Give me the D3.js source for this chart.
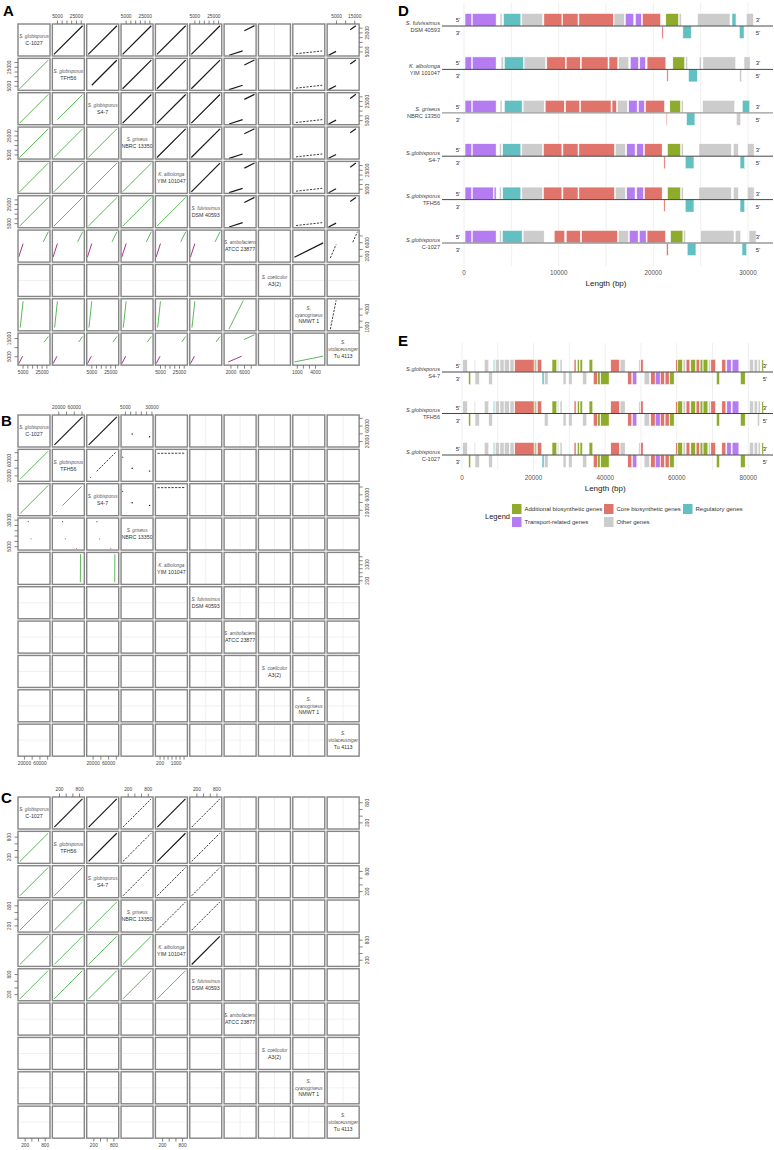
<!DOCTYPE html>
<html>
<head>
<meta charset="utf-8">
<script src="https://cdn.jsdelivr.net/npm/d3@7"></script>
<style>
body { margin: 0; background: #fff; }
svg { display: block; font-family: "Liberation Sans", Arial, sans-serif; }
</style>
</head>
<body>
<div id="fig"></div>
<script>
// species shown on the diagonal of the three dot-plot matrices
var speciesItalic = [["S. globisporus"], ["S. globisporus"], ["S. globisporus"], ["S. griseus"], ["K. albolonga"],
    ["S. fulvissimus"], ["S. ambofaciens"], ["S. coelicolor"], ["S.", "cyanogriseus"], ["S.", "violaceusniger"]];
var speciesStrain = ["C-1027", "TFH56", "S4-7", "NBRC 13350", "YIM 101047", "DSM 40593", "ATCC 23877", "A3(2)", "NMWT 1", "Tu 4113"];

// ---- panel A : cluster coordinates (bp), null = no cluster
var coreA = [1500, 32500];
var domA = [coreA, coreA, coreA, coreA, coreA, coreA, [500, 9200], null, [550, 5400], [800, 17000]];
var t30 = [5000, 10000, 15000, 20000, 25000, 30000];
var ticksA = [t30, t30, t30, t30, t30, t30, [2000, 4000, 6000, 8000], null, [1000, 2000, 3000, 4000], [5000, 10000, 15000]];
var labelsA = [[5000, 25000], [5000, 25000], [5000, 25000], [5000, 25000], [5000, 25000], [5000, 25000], [2000, 6000], null, [1000, 4000], [5000, 15000]];
// matches "row,col" (row > col): [colStart, rowStart, colEnd, rowEnd, orientation]
var diagA = [[1800, 1800, 32000, 32000, "f"]];
var ambA = [[900, 1600, 5500, 5600, "r"], [26800, 6100, 32100, 9100, "f"]];
var cyaA = [[2500, 870, 5500, 5190, "f"]];
var vioA = [[900, 900, 5000, 5000, "r"], [27800, 12800, 32100, 15900, "f"]];
var segsA = {
    "1,0": diagA, "2,0": diagA, "2,1": [[5500, 5500, 31800, 31800, "f"]],
    "3,0": diagA, "3,1": diagA, "3,2": diagA,
    "4,0": diagA, "4,1": diagA, "4,2": diagA, "4,3": diagA,
    "5,0": diagA, "5,1": diagA, "5,2": diagA, "5,3": diagA, "5,4": diagA,
    "6,0": ambA, "6,1": ambA, "6,2": ambA, "6,3": ambA, "6,4": ambA, "6,5": ambA,
    "8,0": cyaA, "8,1": cyaA, "8,2": cyaA, "8,3": cyaA, "8,4": cyaA, "8,5": cyaA,
    "8,6": [[1540, 600, 5800, 5340, "f"]],
    "9,0": vioA, "9,1": vioA, "9,2": vioA, "9,3": vioA, "9,4": vioA, "9,5": vioA,
    "9,6": [[1350, 1860, 5320, 5030, "r"], [6000, 14200, 9100, 16800, "f"]],
    "9,8": [[600, 1860, 5350, 5030, "f"]]
};
var gappedA = ["8,0", "8,1", "8,2", "8,3", "8,4", "8,5", "9,6", "9,8"];

// ---- panel B
var coreB = [8000, 84000];
var t80 = [20000, 40000, 60000, 80000];
var domB = [coreB, coreB, coreB, [2600, 30300], [56, 1528], null, null, null, null, null];
var ticksB = [t80, t80, t80, [5000, 10000, 15000, 20000, 25000, 30000], [200, 400, 600, 800, 1000, 1200, 1400], null, null, null, null, null];
var labelsB = [[20000, 60000], [20000, 60000], [20000, 60000], [5000, 30000], [200, 1000], null, null, null, null, null];
var diagB = [[10000, 10000, 82500, 82500, "f"]];
var grisB = [[38000, 11300, 38300, 12500, "f"], [31000, 27600, 31400, 28800, "r"]];
var grisB2 = [[38000, 11300, 38300, 12500, "f"], [31000, 27600, 31400, 28800, "r"], [66500, 2700, 67800, 3300, "r"]];
var segsB = {
    "1,0": diagB, "2,0": diagB,
    "2,1": [[30500, 30500, 80000, 80000, "f"], [14000, 14000, 15700, 15700, "f"]],
    "3,0": grisB, "3,1": grisB2, "3,2": grisB2,
    "4,1": [[77000, 100, 77400, 1500, "f"]], "4,2": [[77000, 100, 77400, 1500, "f"]]
};
var gappedB = ["2,1", "4,1", "4,2"];

// ---- panel C
var coreC = [40, 920];
var t800 = [200, 400, 600, 800];
var domC = [coreC, coreC, coreC, coreC, coreC, coreC, null, null, null, null];
var ticksC = [t800, t800, t800, t800, t800, t800, null, null, null, null];
var labelsC = [[200, 800], [200, 800], [200, 800], [200, 800], [200, 800], [200, 800], null, null, null, null];
var diagC = [[60, 60, 900, 900, "f"]];
var segsC = {};
for (var r = 1; r < 6; r++) for (var c = 0; c < r; c++) segsC[r + "," + c] = diagC;
var gappedC = ["3,0", "5,0", "3,1", "5,1", "3,2", "4,2", "5,2", "4,3", "5,3"];

// ---- panel D : genes [start, end, strand, type]
var namesD = [["S. fulvissimus", "DSM 40593"], ["K. albolonga", "YIM 101047"], ["S. griseus", "NBRC 13350"],
    ["S.globisporus", "S4-7"], ["S.globisporus", "TFH56"], ["S.globisporus", "C-1027"]];
var genesFulvissimus = [[110, 810, 1, "t"], [880, 3390, 1, "t"], [3810, 4020, 1, "o"], [4170, 6000, 1, "r"], [6110, 8300, 1, "o"],
    [8440, 10340, 1, "c"], [10410, 12040, 1, "c"], [12140, 15780, 1, "c"], [15850, 16940, 1, "o"], [17050, 17930, 1, "t"],
    [18110, 18740, 1, "t"], [18850, 20760, 1, "c"], [21320, 22660, 1, "a"], [22730, 22950, 1, "o"], [24670, 28100, 1, "o"],
    [28310, 28730, 1, "r"], [29830, 30570, 1, "o"],
    [20900, 21040, -1, "c"], [23120, 24000, -1, "r"], [29090, 29580, -1, "r"]];
var genesAlbolonga = [[110, 810, 1, "t"], [880, 3390, 1, "t"], [3920, 4170, 1, "o"], [4270, 6280, 1, "r"], [6350, 8610, 1, "o"],
    [8750, 10700, 1, "c"], [10800, 12280, 1, "c"], [12390, 15210, 1, "c"], [15320, 16240, 1, "c"], [16340, 17400, 1, "o"],
    [17580, 18430, 1, "t"], [18570, 19170, 1, "t"], [19340, 21320, 1, "c"], [22060, 23300, 1, "a"], [23400, 23620, 1, "o"],
    [24850, 25060, 1, "o"], [25240, 28700, 1, "o"], [29580, 30220, 1, "o"],
    [21430, 21570, -1, "c"], [23720, 24640, -1, "r"], [29120, 29330, -1, "o"]];
var genesGriseus = [[110, 810, 1, "t"], [880, 3390, 1, "t"], [3810, 4020, 1, "o"], [4270, 6140, 1, "r"], [6250, 8470, 1, "o"],
    [8580, 10590, 1, "c"], [10730, 12210, 1, "c"], [12320, 15530, 1, "c"], [15640, 16100, 1, "c"], [16200, 17260, 1, "o"],
    [17400, 18290, 1, "t"], [18430, 19060, 1, "t"], [19170, 21180, 1, "c"], [21740, 22870, 1, "a"], [22950, 23160, 1, "o"],
    [25200, 28590, 1, "o"], [29400, 30180, 1, "r"],
    [21360, 21460, -1, "c"], [23510, 24390, -1, "r"], [28770, 29230, -1, "o"]];
var genesS47 = [[110, 810, 1, "t"], [880, 3390, 1, "t"], [3740, 3950, 1, "o"], [4090, 6000, 1, "r"], [6110, 8300, 1, "o"],
    [8400, 10340, 1, "c"], [10450, 12040, 1, "c"], [12140, 15890, 1, "c"], [15990, 17050, 1, "o"], [17190, 18070, 1, "t"],
    [18250, 18960, 1, "t"], [19060, 20930, 1, "c"], [21500, 22870, 1, "a"], [22950, 23160, 1, "o"], [24820, 28240, 1, "o"],
    [28450, 28980, 1, "o"], [29930, 30640, 1, "o"],
    [21110, 21250, -1, "c"], [23370, 24290, -1, "r"], [29160, 29650, -1, "r"]];
var genesTFH56 = [[110, 810, 1, "t"], [880, 3110, 1, "t"], [3180, 3390, 1, "t"], [3740, 3950, 1, "o"], [4090, 6000, 1, "r"],
    [6110, 8300, 1, "o"], [8400, 10340, 1, "c"], [10450, 12040, 1, "c"], [12140, 15890, 1, "c"], [15990, 17050, 1, "o"],
    [17190, 18070, 1, "t"], [18250, 18960, 1, "t"], [19060, 20930, 1, "c"], [21500, 22870, 1, "a"], [22950, 23160, 1, "o"],
    [24820, 28240, 1, "o"], [28450, 28980, 1, "o"], [29930, 30640, 1, "o"],
    [21110, 21250, -1, "c"], [23370, 24290, -1, "r"], [29160, 29650, -1, "r"]];
var genesC1027 = [[110, 810, 1, "t"], [880, 3390, 1, "t"], [3740, 3950, 1, "o"], [4060, 6140, 1, "r"], [6250, 8470, 1, "o"],
    [9530, 10630, 1, "c"], [10800, 12280, 1, "c"], [12430, 16200, 1, "c"], [16310, 17370, 1, "o"], [17470, 18390, 1, "t"],
    [18530, 19240, 1, "t"], [19340, 21290, 1, "c"], [21820, 23120, 1, "a"], [23190, 23400, 1, "o"], [24990, 28520, 1, "o"],
    [28660, 29230, 1, "o"], [30110, 30850, 1, "o"],
    [21390, 21570, -1, "c"], [23580, 24500, -1, "r"], [29370, 29860, -1, "r"]];
var tracksD = [genesFulvissimus, genesAlbolonga, genesGriseus, genesS47, genesTFH56, genesC1027];
var ticksD = [0, 10000, 20000, 30000];

// ---- panel E
var namesE = [["S.globisporus", "S4-7"], ["S.globisporus", "TFH56"], ["S.globisporus", "C-1027"]];
var genesShared = [[190, 1490, 1, "o"], [3450, 3730, 1, "o"], [6240, 7460, 1, "o"], [8760, 9130, 1, "r"], [9320, 10440, 1, "o"],
    [10620, 11740, 1, "o"], [11840, 13230, 1, "o"], [13420, 14540, 1, "o"], [14730, 20130, 1, "c"], [20220, 20690, 1, "a"],
    [20690, 20970, 1, "o"], [21060, 22270, 1, "c"], [25160, 26470, 1, "a"], [26650, 27030, 1, "o"], [27400, 27960, 1, "o"],
    [31320, 31870, 1, "c"], [32250, 32810, 1, "a"], [32990, 33650, 1, "a"], [35510, 36530, 1, "a"], [41570, 43990, 1, "c"],
    [44180, 45580, 1, "o"], [49400, 49770, 1, "o"], [49950, 50610, 1, "c"], [59740, 60210, 1, "c"], [60300, 61610, 1, "a"],
    [61790, 62440, 1, "o"], [62630, 63660, 1, "c"], [63940, 65240, 1, "a"], [65430, 66360, 1, "c"], [66550, 67290, 1, "a"],
    [67380, 68690, 1, "a"], [68870, 69340, 1, "o"], [69530, 70830, 1, "c"], [72600, 73720, 1, "c"], [74000, 75210, 1, "t"],
    [75490, 77360, 1, "t"], [80340, 81460, 1, "o"], [81640, 82580, 1, "o"], [82760, 83320, 1, "o"], [83790, 84250, 1, "a"],
    [1860, 2420, -1, "a"], [3630, 4850, -1, "o"], [7460, 8480, -1, "o"], [23020, 24050, -1, "o"], [28240, 29080, -1, "o"],
    [29820, 30760, -1, "o"], [33740, 34860, -1, "o"], [36720, 37840, -1, "c"], [37930, 38580, -1, "a"], [38770, 41100, -1, "a"],
    [46320, 47440, -1, "c"], [47630, 48840, -1, "t"], [50890, 52380, -1, "o"], [52750, 53960, -1, "c"], [54060, 55360, -1, "t"],
    [55450, 56570, -1, "c"], [56760, 57880, -1, "c"], [58060, 59280, -1, "a"], [71110, 71950, -1, "a"], [77820, 79130, -1, "a"]];
var tracksE = [genesShared.concat([[22370, 22930, -1, "r"]]),
    genesShared.concat([[82580, 83130, -1, "o"]]),
    genesShared.concat([[22370, 22930, -1, "r"]])];
var ticksE = [0, 20000, 40000, 60000, 80000];

var geneTypes = ["a", "c", "r", "t", "o"];
var geneLabels = ["Additional biosynthetic genes", "Core biosynthetic genes", "Regulatory genes", "Transport-related genes", "Other genes"];

// ------------------------------------------------------------------
var W = 774, H = 1150;
var svg = d3.select("#fig").append("svg").attr("width", W).attr("height", H);

var geneColor = d3.scaleOrdinal().domain(geneTypes).range(["#8fab2c", "#e0746b", "#62c0c2", "#b47cf0", "#cccccc"]);
var matchColor = { f: "#5db85a", r: "#a5388a" };

var pitch = 34.35, cs = 32, pad = cs * 0.04;

function drawPairs(gx, gy, doms, ticks, labs, segs, gapped) {
    var g = svg.append("g").attr("transform", "translate(" + gx + "," + gy + ")");
    var n = doms.length;
    for (var i = 0; i < n; i++) {
        for (var j = 0; j < n; j++) {
            var cell = g.append("g").attr("transform", "translate(" + (j * pitch) + "," + (i * pitch) + ")");
            if (i == j) {
                var lines = speciesItalic[i].map(function(t) { return { t: t, it: true }; })
                    .concat([{ t: speciesStrain[i], it: false }]);
                var lh = 6.8, y0 = cs / 2 - (lines.length - 1) * lh / 2 + 1.8;
                cell.selectAll("text").data(lines).enter().append("text")
                    .attr("x", cs / 2)
                    .attr("y", function(d, k) { return y0 + k * lh; })
                    .attr("text-anchor", "middle")
                    .style("font-size", function(d) { return d.it ? "4.7px" : "5.3px"; })
                    .style("font-style", function(d) { return d.it ? "italic" : "normal"; })
                    .style("fill", function(d) { return d.it ? "#555" : "#333"; })
                    .text(function(d) { return d.t; });
            } else {
                if (!doms[j]) cell.append("line").attr("x1", cs / 2).attr("x2", cs / 2).attr("y1", 0).attr("y2", cs)
                    .style("stroke", "#ececec").style("stroke-width", 0.8);
                if (!doms[i]) cell.append("line").attr("y1", cs / 2).attr("y2", cs / 2).attr("x1", 0).attr("x2", cs)
                    .style("stroke", "#ececec").style("stroke-width", 0.8);
                if (doms[i] && doms[j]) {
                    var x = d3.scaleLinear().domain(doms[j]).range([pad, cs - pad]);
                    var y = d3.scaleLinear().domain(doms[i]).range([cs - pad, pad]);
                    var lower = i > j;
                    var key = lower ? i + "," + j : j + "," + i;
                    var list = segs[key] || [];
                    var dashed = !lower && gapped.indexOf(key) >= 0;
                    cell.selectAll("line.m").data(list).enter().append("line")
                        .attr("class", "m")
                        .attr("x1", function(d) { return lower ? x(d[0]) : x(d[1]); })
                        .attr("y1", function(d) { return lower ? y(d[1]) : y(d[0]); })
                        .attr("x2", function(d) { return lower ? x(d[2]) : x(d[3]); })
                        .attr("y2", function(d) { return lower ? y(d[3]) : y(d[2]); })
                        .style("stroke", function(d) { return lower ? matchColor[d[4]] : (dashed ? "#333" : "#1a1a1a"); })
                        .style("stroke-width", lower ? 1 : (dashed ? 0.95 : 1.2))
                        .style("stroke-dasharray", dashed ? "2.2,1.3" : null);
                }
            }
            cell.append("rect").attr("width", cs).attr("height", cs)
                .style("fill", "none").style("stroke", "#858585").style("stroke-width", 1.4);
        }
    }
    // axes on alternate sides, as in a pairs plot
    var last = (n - 1) * pitch;
    doms.forEach(function(dom, k) {
        if (!dom) return;
        var fmt = function(v) { return labs[k].indexOf(v) >= 0 ? v : ""; };
        var xs = d3.scaleLinear().domain(dom).range([pad, cs - pad]);
        var ys = d3.scaleLinear().domain(dom).range([cs - pad, pad]);
        var ax;
        if (k % 2 == 1) {
            ax = g.append("g").attr("transform", "translate(" + (k * pitch) + ",0)")
                .call(d3.axisTop(xs).tickValues(ticks[k]).tickSize(3.5).tickFormat(fmt));
            ax.selectAll("text").attr("y", -6.5);
            styleAxis(ax);
            ax = g.append("g").attr("transform", "translate(0," + (k * pitch) + ")")
                .call(d3.axisLeft(ys).tickValues(ticks[k]).tickSize(3.5).tickFormat(fmt));
            ax.selectAll("text").attr("x", 0).attr("dy", 0).attr("text-anchor", "middle")
                .attr("transform", "translate(-7,0) rotate(-90)");
            styleAxis(ax);
        } else {
            ax = g.append("g").attr("transform", "translate(" + (k * pitch) + "," + (last + cs) + ")")
                .call(d3.axisBottom(xs).tickValues(ticks[k]).tickSize(3.5).tickFormat(fmt));
            ax.selectAll("text").attr("y", 5.5);
            styleAxis(ax);
            ax = g.append("g").attr("transform", "translate(" + (last + cs) + "," + (k * pitch) + ")")
                .call(d3.axisRight(ys).tickValues(ticks[k]).tickSize(3.5).tickFormat(fmt));
            ax.selectAll("text").attr("x", 0).attr("dy", 0).attr("text-anchor", "middle")
                .attr("transform", "translate(9.5,0) rotate(-90)");
            styleAxis(ax);
        }
    });
}

function styleAxis(ax) {
    ax.select(".domain").remove();
    ax.selectAll("line").style("stroke", "#666").style("stroke-width", 0.8);
    ax.selectAll("text").style("font-size", "4.8px").style("fill", "#444");
}

drawPairs(18, 24, domA, ticksA, labelsA, segsA, gappedA);
drawPairs(18, 415, domB, ticksB, labelsB, segsB, gappedB);
drawPairs(18, 797, domC, ticksC, labelsC, segsC, gappedC);

// ---- gene maps
function drawTracks(x, tracks, names, base0, step, gridTop, gridBot, gridStep, ticks, axisY, rightX) {
    var g = svg.append("g");
    var dmax = x.domain()[1];
    g.selectAll("line.grid").data(d3.range(0, dmax + 1, gridStep)).enter().append("line")
        .attr("x1", function(d) { return x(d); }).attr("x2", function(d) { return x(d); })
        .attr("y1", gridTop).attr("y2", gridBot)
        .style("stroke", "#ebebeb").style("stroke-width", 0.8);
    tracks.forEach(function(genes, t) {
        var by = base0 + t * step;
        var tg = g.append("g");
        tg.selectAll("rect").data(genes).enter().append("rect")
            .attr("x", function(d) { return x(d[0]); })
            .attr("width", function(d) { return Math.max(0.8, x(d[1]) - x(d[0])); })
            .attr("y", function(d) { return d[2] > 0 ? by - 12.5 : by; })
            .attr("height", 12.5)
            .style("fill", function(d) { return geneColor(d[3]); })
            .style("stroke", "#fff").style("stroke-width", 0.5);
        // the last track of each three-track block sits on the lighter axis line
        var light = tracks.length == 6 && t % 3 == 2;
        tg.append("line").attr("x1", 442).attr("x2", 773).attr("y1", by).attr("y2", by)
            .style("stroke", light ? "#9a9a9a" : "#333").style("stroke-width", light ? 1.3 : 0.9);
        var lab = [["5'", 458, by - 4], ["3'", 458, by + 9], ["3'", rightX, by - 4], ["5'", rightX, by + 9]];
        tg.selectAll("text.s").data(lab).enter().append("text").attr("class", "s")
            .attr("x", function(d) { return d[1]; }).attr("y", function(d) { return d[2]; })
            .attr("text-anchor", "middle").style("font-size", "6px").style("fill", "#333")
            .text(function(d) { return d[0]; });
        tg.append("text").attr("x", 440).attr("y", by - 1.5).attr("text-anchor", "end")
            .style("font-size", "5.6px").style("font-style", "italic").style("fill", "#444").text(names[t][0]);
        tg.append("text").attr("x", 440).attr("y", by + 5.5).attr("text-anchor", "end")
            .style("font-size", "5.6px").style("fill", "#444").text(names[t][1]);
    });
    g.selectAll("text.tick").data(ticks).enter().append("text").attr("class", "tick")
        .attr("x", function(d) { return x(d); }).attr("y", axisY)
        .attr("text-anchor", "middle").style("font-size", "6.3px").style("fill", "#555")
        .text(function(d) { return d; });
    g.append("text").attr("x", (x.range()[0] + x.range()[1]) / 2).attr("y", axisY + 11)
        .attr("text-anchor", "middle").style("font-size", "8px").style("fill", "#222").text("Length (bp)");
}

var xD = d3.scaleLinear().domain([0, 30000]).range([464, 748]);
drawTracks(xD, tracksD, namesD, 26, 43.4, 3, 266, 5000, ticksD, 275, 758);
var xE = d3.scaleLinear().domain([0, 80000]).range([462, 748.3]);
drawTracks(xE, tracksE, namesE, 372, 41.5, 343, 470, 10000, ticksE, 480, 765);

// legend
var lg = svg.append("g");
lg.append("text").attr("x", 485).attr("y", 518.5).style("font-size", "7.5px").style("fill", "#222").text("Legend");
var legPos = [[512, 504], [604, 504], [683, 504], [512, 517], [604, 517]];
var li = lg.selectAll("g.li").data(geneTypes).enter().append("g")
    .attr("transform", function(d, k) { return "translate(" + legPos[k][0] + "," + legPos[k][1] + ")"; });
li.append("rect").attr("width", 9.5).attr("height", 10).style("fill", function(d) { return geneColor(d); });
li.append("text").attr("x", 12.5).attr("y", 7.2).style("font-size", "6px").style("fill", "#333")
    .text(function(d, k) { return geneLabels[k]; });

// panel letters
var letters = [["A", 3, 16], ["B", 1, 426], ["C", 1, 803], ["D", 398, 16], ["E", 398, 346]];
svg.selectAll("text.pl").data(letters).enter().append("text").attr("class", "pl")
    .attr("x", function(d) { return d[1]; }).attr("y", function(d) { return d[2]; })
    .style("font-size", "15px").style("font-weight", "bold").style("fill", "#000")
    .text(function(d) { return d[0]; });
</script>
</body>
</html>
